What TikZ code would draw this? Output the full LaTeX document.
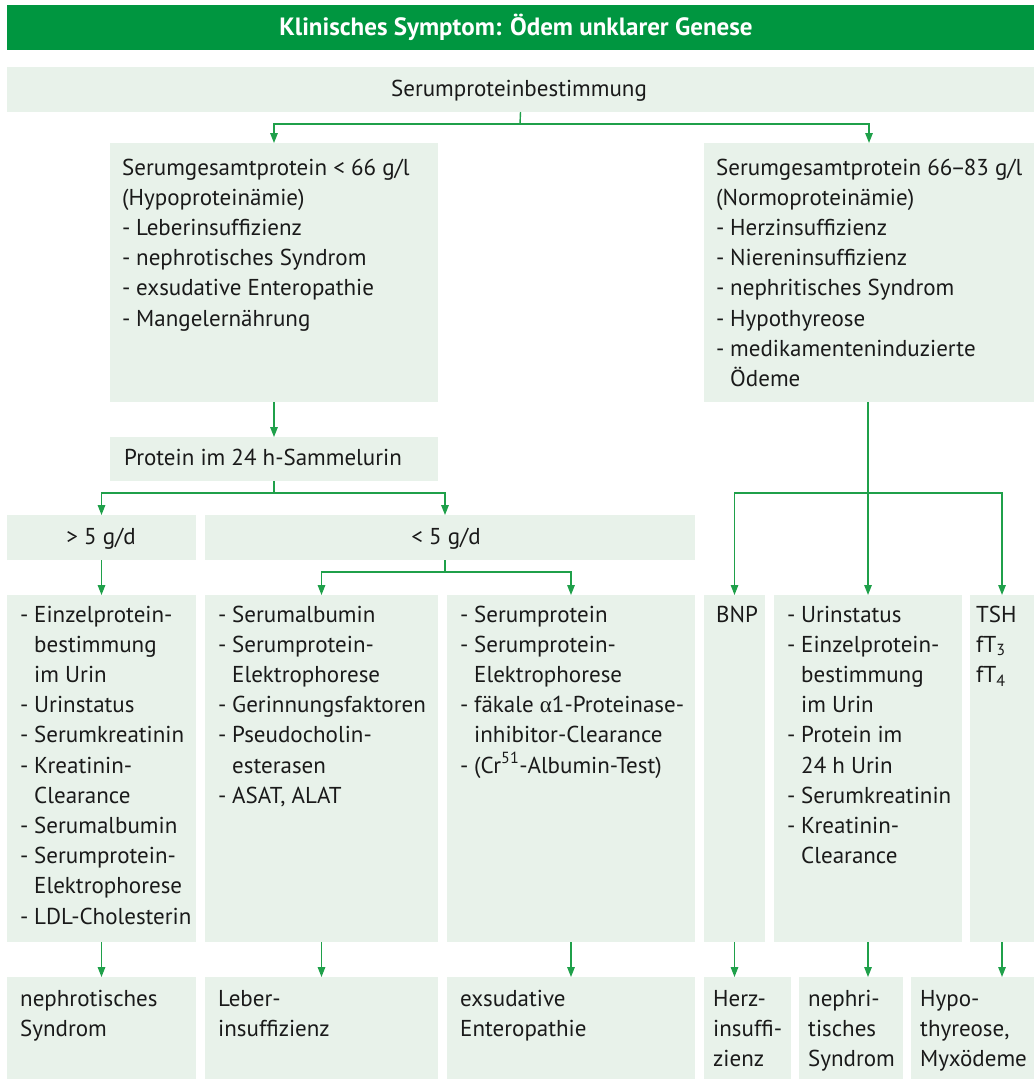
\documentclass[tikz,border=0pt]{standalone}
\usepackage{fontspec}
\setmainfont{PT Sans}
\newfontfamily\greekfont{Liberation Serif}
\usetikzlibrary{arrows.meta}

\definecolor{titlegreen}{HTML}{009640}
\definecolor{boxfill}{HTML}{E8F2EA}
\definecolor{linkgreen}{HTML}{1FA04A}
\definecolor{ink}{HTML}{1A1A1A}

\newcommand\bodyfont{\fontsize{23}{30.2}\selectfont}
% multi-line cell whose reference point is the first baseline
\newcommand\lines[1]{\begin{tabular}[t]{@{}l@{}}#1\end{tabular}}
% bulleted list: dash column plus text column
\newcommand\dashlist[1]{\begin{tabular}[t]{@{}l@{\hspace{0.25em}}l@{}}#1\end{tabular}}

\begin{document}
\begin{tikzpicture}[x=1pt,y=-1pt,
  panel/.style={fill=boxfill,draw=none,inner sep=0pt,outer sep=0pt,anchor=north west},
  txt/.style={anchor=base west,inner sep=0pt,text=ink,font=\bodyfont},
  ctxt/.style={anchor=base,inner sep=0pt,text=ink,font=\bodyfont},
  wire/.style={draw=linkgreen,line width=1.4pt},
  link/.style={wire,-{Triangle[length=10pt,width=7.5pt]}}]

\useasboundingbox (0,0) rectangle (1034,1079);

% title bar
\node[panel,fill=titlegreen,minimum width=1027pt,minimum height=45pt] (title) at (7,5) {};
\node[anchor=base,inner sep=0pt,text=white,font=\fontsize{25}{28}\selectfont\bfseries] (titletext) at (516,35) {Klinisches Symptom: Ödem unklarer Genese};

% panels (top-left corner, width, height)
\node[panel,minimum width=1027pt,minimum height=45pt] (top) at (7,67) {};
\node[panel,minimum width=328pt,minimum height=259pt] (hypo) at (110,143) {};
\node[panel,minimum width=330pt,minimum height=259pt] (normo) at (704,143) {};
\node[panel,minimum width=328pt,minimum height=44pt] (urin24) at (110,437) {};
\node[panel,minimum width=189pt,minimum height=45pt] (gt5) at (7,515) {};
\node[panel,minimum width=490pt,minimum height=45pt] (lt5) at (205,515) {};

\node[panel,minimum width=189pt,minimum height=347pt] (einzel) at (7,595) {};
\node[panel,minimum width=233pt,minimum height=347pt] (albumin) at (205,595) {};
\node[panel,minimum width=248pt,minimum height=347pt] (sprot) at (447,595) {};
\node[panel,minimum width=61pt,minimum height=347pt] (bnp) at (704,595) {};
\node[panel,minimum width=188pt,minimum height=347pt] (ustat) at (774,595) {};
\node[panel,minimum width=64pt,minimum height=347pt] (tsh) at (970,595) {};

\node[panel,minimum width=189pt,minimum height=102pt] (dxnephrot) at (7,977) {};
\node[panel,minimum width=233pt,minimum height=102pt] (dxleber) at (205,977) {};
\node[panel,minimum width=248pt,minimum height=102pt] (dxexsud) at (447,977) {};
\node[panel,minimum width=87pt,minimum height=102pt] (dxherz) at (704,977) {};
\node[panel,minimum width=104pt,minimum height=102pt] (dxnephrit) at (799,977) {};
\node[panel,minimum width=123pt,minimum height=102pt] (dxhypo) at (911,977) {};

% texts
\node[ctxt] (toptext) at (519,96) {Serumproteinbestimmung};

\node[txt] (hypotext) at (122,175) {\lines{Serumgesamtprotein < 66 g/l\\(Hypoproteinämie)}};
\node[txt] (hypolist) at (122,235.4) {\dashlist{-&Leberinsuffizienz\\-&nephrotisches Syndrom\\-&exsudative Enteropathie\\-&Mangelernährung}};

\node[txt] (normotext) at (716,175) {\lines{Serumgesamtprotein 66\kern-0.08em–\kern-0.08em83 g/l\\(Normoproteinämie)}};
\node[txt] (normolist) at (716,235.4) {\dashlist{-&Herzinsuffizienz\\-&Niereninsuffizienz\\-&nephritisches Syndrom\\-&Hypothyreose\\-&medikamenteninduzierte\\&Ödeme}};

\node[txt] (urin24text) at (124,465) {Protein im 24 h-Sammelurin};
\node[ctxt] (gt5text) at (101,544) {> 5 g/d};
\node[ctxt] (lt5text) at (446,544) {< 5 g/d};

\node[txt] (einzeltext) at (20,622) {\dashlist{-&Einzelprotein-\\&bestimmung\\&im Urin\\-&Urinstatus\\-&Serumkreatinin\\-&Kreatinin-\\&Clearance\\-&Serumalbumin\\-&Serumprotein-\\&Elektrophorese\\-&LDL-Cholesterin}};
\node[txt] (albumintext) at (218,622) {\dashlist{-&Serumalbumin\\-&Serumprotein-\\&Elektrophorese\\-&Gerinnungsfaktoren\\-&Pseudocholin-\\&esterasen\\-&ASAT, ALAT}};
\node[txt] (sprottext) at (460,622) {\dashlist{-&Serumprotein\\-&Serumprotein-\\&Elektrophorese\\-&fäkale {\greekfont α}1-Proteinase-\\&inhibitor-Clearance\\-&(Cr\textsuperscript{51}-Albumin-Test)}};
\node[txt] (bnptext) at (716,622) {BNP};
\node[txt] (ustattext) at (787,622) {\dashlist{-&Urinstatus\\-&Einzelprotein-\\&bestimmung\\&im Urin\\-&Protein im\\&24 h Urin\\-&Serumkreatinin\\-&Kreatinin-\\&Clearance}};
\node[txt] (tshtext) at (976,622) {\lines{TSH\\fT\textsubscript{3}\\fT\textsubscript{4}}};

\node[txt] (dxnephrottext) at (20,1006) {\lines{nephrotisches\\Syndrom}};
\node[txt] (dxlebertext) at (218,1006) {\lines{Leber-\\insuffizienz}};
\node[txt] (dxexsudtext) at (460,1006) {\lines{exsudative\\Enteropathie}};
\node[txt] (dxherztext) at (713,1006) {\lines{Herz-\\insuffi-\\zienz}};
\node[txt] (dxnephrittext) at (808,1006) {\lines{nephri-\\tisches\\Syndrom}};
\node[txt] (dxhypotext) at (920,1006) {\lines{Hypo-\\thyreose,\\Myxödeme}};

% connectors
\coordinate (split1) at (520,124);
\draw[wire] (top.south) -- (split1);
\draw[link] (split1) -| (hypo.north);
\draw[link] (split1) -| (normo.north);

\draw[link] (hypo.south) -- (urin24.north);

\coordinate (split2) at (274,493);
\draw[wire] (urin24.south) -- (split2);
\draw[link] (split2) -| (gt5.north);
\draw[link] (split2) -| ([xshift=-5pt]lt5.north);

\coordinate (split3) at (445,572);
\draw[wire] ([xshift=-5pt]lt5.south) -- (split3);
\draw[link] (split3) -| (albumin.north);
\draw[link] (split3) -| (sprot.north);

\draw[link] (gt5.south) -- (einzel.north);

\coordinate (split4) at (868,493);
\draw[link] (normo.south -| ustat.north) -- (ustat.north);
\draw[link] (split4) -| (bnp.north);
\draw[link] (split4) -| (tsh.north);

\draw[link] (einzel.south) -- (dxnephrot.north);
\draw[link] (albumin.south) -- (dxleber.north);
\draw[link] (sprot.south) -- (dxexsud.north);
\draw[link] (bnp.south) -- (bnp.south |- dxherz.north);
\draw[link] (ustat.south) -- (ustat.south |- dxnephrit.north);
\draw[link] (tsh.south) -- (tsh.south |- dxhypo.north);
\end{tikzpicture}
\end{document}
